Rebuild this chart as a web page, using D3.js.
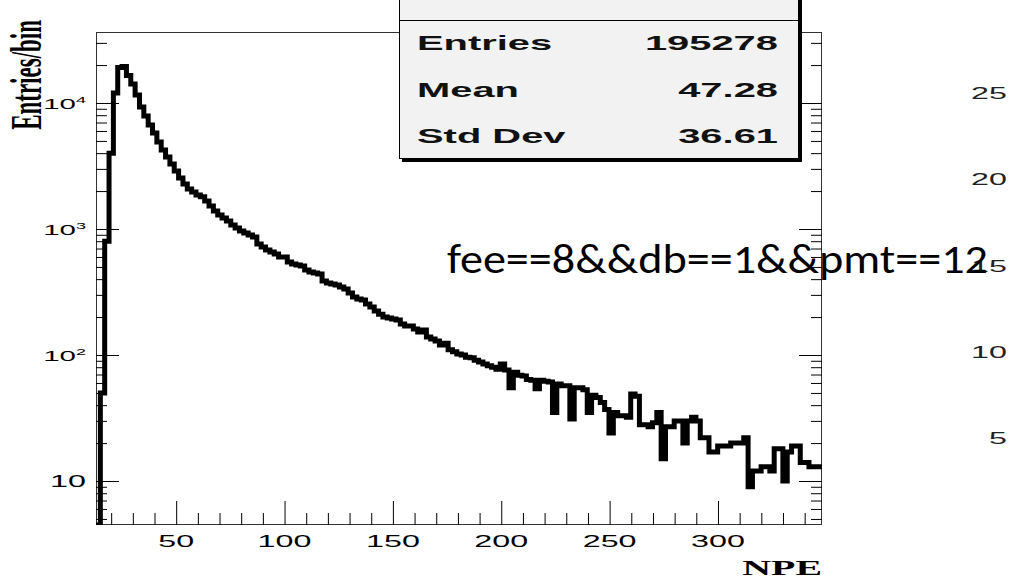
<!DOCTYPE html>
<html>
<head>
<meta charset="utf-8">
<script src="https://cdn.jsdelivr.net/npm/d3@7"></script>
<style>
  html, body { margin: 0; padding: 0; background: #fff; }
  svg { display: block; }
</style>
</head>
<body>
<svg id="chart" width="1010" height="579"></svg>
<script>
// ---- data -------------------------------------------------------------
// NPE histogram: equal-width bins spanning [xLow, xHigh]
const xLow = 13, xHigh = 348;
const counts = [
  3, 50, 800, 4000, 12000, 19100, 19500, 16500, 14150, 11560,
  9290, 7880, 6690, 5780, 4900, 4240, 3730, 3280, 2890, 2540,
  2280, 2080, 1970, 1860, 1800, 1670, 1520, 1390, 1290, 1220,
  1160, 1075, 1020, 964, 929, 896, 864, 760, 720, 681,
  657, 633, 600, 600, 547, 528, 518, 508, 473, 456,
  448, 440, 387, 373, 366, 359, 346, 334, 311, 289,
  278, 273, 254, 240, 223, 211, 200, 197, 193, 190,
  176, 170, 170, 161, 152, 158, 139, 134, 129, 120,
  124, 110, 106, 102, 100, 96, 95, 91, 88, 85,
  82, 80, 77, 85, 76, 55, 73, 69, 68, 64,
  63, 54, 63, 62, 61, 35, 59, 57, 57, 31,
  55, 55, 53, 35, 48, 46, 42, 37, 24, 35,
  33, 33, 32, 49, 47, 28, 28, 27, 29, 35,
  15, 27, 27, 30, 30, 20, 30, 32, 30, 22,
  22, 17, 17, 19, 19, 19, 20, 20, 20, 22,
  9, 12, 12, 13, 13, 12, 18, 18, 10, 17,
  19, 19, 14, 14, 13, 13, 13
];

const statNames  = ["Entries", "Mean", "Std Dev"];
const statValues = ["195278", "47.28", "36.61"];

const xMajorTicks = [50, 100, 150, 200, 250, 300];
const xTickLabels = ["50", "100", "150", "200", "250", "300"];
const yMajorTicks = [10, 100, 1000, 10000];
const yTickExponents = ["", "2", "3", "4"];

const xTitle = "NPE";
const yTitle = "Entries/bin";
const cutText = "fee==8&&db==1&&pmt==12";

// axis labels of the neighbouring pad, partly visible at the right edge
const sideTicks = [5, 10, 15, 20, 25];
const sideTickLabels = ["5", "10", "15", "20", "25"];

// ---- layout -----------------------------------------------------------
const frame = { left: 96, right: 822, top: 32, bottom: 525 };
const SX = 1.9;                    // horizontal stretch of the exported canvas text
const sans = "'Liberation Sans', Arial, Helvetica, sans-serif";
const serif = "'Liberation Serif', 'Times New Roman', serif";

const svg = d3.select("#chart");

const x = d3.scaleLinear().domain([xLow, xHigh]).range([frame.left, frame.right]);
const y = d3.scaleLog().domain([4.476, 36600]).range([frame.bottom, frame.top]);
const sideY = d3.scaleLinear().domain([5, 25]).range([438, 93]);

// stretched text helper
function sText(parent, tx, ty, str, opt) {
  const g = parent.append("g")
    .attr("transform", `translate(${tx},${ty}) scale(${SX},1)` + (opt.rotate ? ` rotate(${opt.rotate})` : ""));
  const t = g.append("text")
    .attr("x", 0).attr("y", 0)
    .attr("text-anchor", opt.anchor || "start")
    .attr("font-family", opt.family || sans)
    .attr("font-weight", opt.weight || "normal")
    .attr("font-size", opt.size)
    .attr("fill", opt.fill || "#000")
    .text(str);
  return t;
}

// ---- frame ------------------------------------------------------------
svg.append("rect")
  .attr("x", frame.left + 0.5).attr("y", frame.top + 0.5)
  .attr("width", frame.right - frame.left - 1).attr("height", frame.bottom - frame.top - 1)
  .attr("fill", "none").attr("stroke", "#333").attr("stroke-width", 1);

// ---- ticks ------------------------------------------------------------
const xMinorTicks = d3.range(20, 341, 10).filter(v => v % 50 !== 0);
function styleAxis(g) {
  g.select(".domain").remove();
  g.selectAll(".tick line").attr("stroke", "#000").attr("stroke-width", 1);
  g.selectAll(".tick text").remove();
}
svg.append("g").attr("transform", `translate(0,${frame.bottom})`)
  .call(d3.axisTop(x).tickValues(xMinorTicks).tickSize(12).tickFormat(""))
  .call(styleAxis);
svg.append("g").attr("transform", `translate(0,${frame.bottom})`)
  .call(d3.axisTop(x).tickValues(xMajorTicks).tickSize(24).tickFormat(""))
  .call(styleAxis);

const yMinorTicks = [];
for (let d = 1; d <= 10000; d *= 10) {
  for (let k = 2; k <= 9; k++) {
    const v = k * d;
    if (v >= y.domain()[0] && v <= y.domain()[1]) yMinorTicks.push(v);
  }
}
[[frame.left, d3.axisRight], [frame.right, d3.axisLeft]].forEach(([px, mk]) => {
  svg.append("g").attr("transform", `translate(${px},0)`)
    .call(mk(y).tickValues(yMinorTicks).tickSize(11).tickFormat(""))
    .call(styleAxis);
  svg.append("g").attr("transform", `translate(${px},0)`)
    .call(mk(y).tickValues(yMajorTicks).tickSize(23).tickFormat(""))
    .call(styleAxis);
});

// ---- histogram outline ------------------------------------------------
const binW = (xHigh - xLow) / counts.length;
const yc = v => Math.max(frame.top, Math.min(frame.bottom, y(Math.max(v, 1e-3))));
const pts = [[x(xLow), frame.bottom]];
counts.forEach((c, i) => {
  const lo = xLow + i * binW, hi = lo + binW;
  pts.push([x(lo), yc(c)], [x(hi), yc(c)]);
});
svg.append("clipPath").attr("id", "frameClip")
  .append("rect")
  .attr("x", frame.left).attr("y", frame.top)
  .attr("width", frame.right - frame.left).attr("height", frame.bottom - frame.top);
svg.append("path")
  .attr("clip-path", "url(#frameClip)")
  .attr("d", d3.line()(pts))
  .attr("fill", "none")
  .attr("stroke", "#000")
  .attr("stroke-width", 5)
  .attr("stroke-linejoin", "miter");

// ---- tick labels ------------------------------------------------------
xMajorTicks.forEach((v, i) => {
  sText(svg, x(v), 547, xTickLabels[i], { anchor: "middle", size: 17 });
});
yMajorTicks.forEach((v, i) => {
  const exp = yTickExponents[i];
  if (!exp) {
    sText(svg, 86, y(v) + 6, "10", { anchor: "end", size: 17 });
  } else {
    const t = sText(svg, 86, y(v) + 6, "", { anchor: "end", size: 15.5 });
    t.append("tspan").text("10");
    t.append("tspan").attr("font-size", 9.5).attr("dy", -6).text(exp);
  }
});

// ---- axis titles ------------------------------------------------------
sText(svg, 822, 575, xTitle, { anchor: "end", size: 21, family: serif, weight: "bold" });
sText(svg, 41, 20, yTitle, { anchor: "end", size: 23, family: serif, weight: "bold", rotate: -90 });

// ---- statistics box ---------------------------------------------------
const box = { left: 399, right: 799, top: -20, bottom: 159, shadow: 3 };
svg.append("rect")
  .attr("x", box.left + box.shadow).attr("y", box.top + box.shadow)
  .attr("width", box.right - box.left).attr("height", box.bottom - box.top)
  .attr("fill", "#000");
svg.append("rect")
  .attr("x", box.left + 0.5).attr("y", box.top + 0.5)
  .attr("width", box.right - box.left - 1).attr("height", box.bottom - box.top - 1)
  .attr("fill", "#f2f2f2").attr("stroke", "#000").attr("stroke-width", 1);
svg.append("line")
  .attr("x1", box.left).attr("x2", box.right)
  .attr("y1", 20.5).attr("y2", 20.5)
  .attr("stroke", "#000").attr("stroke-width", 1);
const statBaselines = [50, 97, 143];
statNames.forEach((n, i) => {
  sText(svg, 417, statBaselines[i], n, { anchor: "start", size: 21, weight: "bold", fill: "#111" });
  sText(svg, 778, statBaselines[i], statValues[i], { anchor: "end", size: 21, weight: "bold", fill: "#111" });
});

// ---- neighbouring pad axis labels ---------------------------------------
sideTicks.forEach((v, i) => {
  sText(svg, 1007, sideY(v) + 6, sideTickLabels[i], { anchor: "end", size: 17, fill: "#222" });
});

// ---- selection cut annotation ------------------------------------------
svg.append("text")
  .attr("x", 447).attr("y", 273)
  .attr("font-family", "Carlito, Calibri, Lato, 'Open Sans', sans-serif")
  .attr("font-size", 41)
  .attr("textLength", 541)
  .attr("lengthAdjust", "spacingAndGlyphs")
  .attr("fill", "#000")
  .text(cutText);
</script>
</body>
</html>
